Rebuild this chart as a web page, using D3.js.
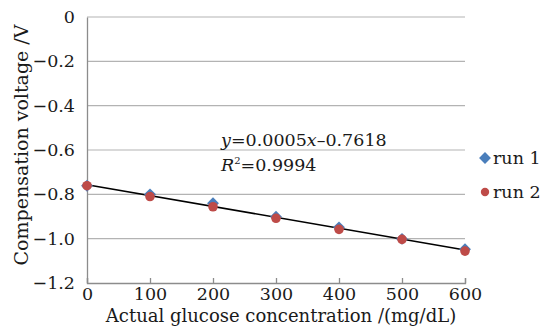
<!DOCTYPE html>
<meta charset="utf-8">
<title>glucose compensation</title>
<script src="https://cdn.jsdelivr.net/npm/d3@7"></script>
<style>
html, body {
    margin: 0;
    background: #fff;
}
svg text {
    font-family: "DejaVu Serif", serif;
    fill: #1a1a1a;
}
</style>
<body>
<svg></svg>
<script>
var conc = [0, 100, 200, 300, 400, 500, 600],
    run1 = [-0.761, -0.800, -0.840, -0.901, -0.949, -1.001, -1.048],
    run2 = [-0.761, -0.810, -0.856, -0.908, -0.958, -1.003, -1.056],
    yTicks = [0, -0.2, -0.4, -0.6, -0.8, -1.0, -1.2],
    xTicks = [0, 100, 200, 300, 400, 500, 600],
    seriesNames = ["run 1", "run 2"],
    eqText = "0.0005",
    eqConst = "0.7618",
    r2Text = "0.9994";

var width = 543,
    height = 327,
    plotLeft = 87,
    plotRight = 465,
    plotTop = 17,
    plotBottom = 283,
    blue = "#4a7ebb",
    red = "#be4b48";

var svg = d3.select("svg")
    .attr("width", width)
    .attr("height", height);

var x = d3.scaleLinear().domain([0, 600]).range([plotLeft, plotRight]),
    y = d3.scaleLinear().domain([-1.2, 0]).range([plotBottom, plotTop]);

// gridlines
svg.append("g")
    .selectAll("line")
    .data(yTicks.filter(function(d) { return d > -1.2; }))
    .enter().append("line")
    .attr("x1", plotLeft)
    .attr("x2", plotRight)
    .attr("y1", function(d) { return y(d); })
    .attr("y2", function(d) { return y(d); })
    .attr("stroke", "#b3b3b3")
    .attr("stroke-width", 1.2);

// axes
var fmt = function(d) { return d === 0 ? "0" : "\u2212" + Math.abs(d).toFixed(1); };

var yAxis = svg.append("g")
    .attr("transform", "translate(" + plotLeft + ",0)")
    .call(d3.axisLeft(y).tickValues(yTicks).tickFormat(fmt).tickSize(0).tickPadding(12));

var xAxis = svg.append("g")
    .attr("transform", "translate(0," + plotBottom + ")")
    .call(d3.axisBottom(x).tickValues(xTicks).tickFormat(d3.format("d")).tickSize(-5).tickPadding(4));

[yAxis, xAxis].forEach(function(a) {
    a.select(".domain").attr("stroke", "#8c8c8c").attr("stroke-width", 1.3);
    a.selectAll(".tick line").attr("stroke", "#8c8c8c").attr("stroke-width", 1.3);
    a.selectAll("text")
        .attr("font-family", "DejaVu Serif")
        .attr("font-size", 17.5)
        .attr("fill", "#1a1a1a");
});
xAxis.selectAll("text").attr("y", 4).attr("dy", "0.75em");

// axis titles
svg.append("text")
    .attr("x", (plotLeft + plotRight) / 2 + 5)
    .attr("y", 322)
    .attr("text-anchor", "middle")
    .attr("font-size", 18)
    .text("Actual glucose concentration /(mg/dL)");

svg.append("text")
    .attr("transform", "translate(28,145)rotate(-90)")
    .attr("text-anchor", "middle")
    .attr("font-size", 19)
    .text("Compensation voltage /V");

// trendline from least squares of both runs
var pts = conc.map(function(c, i) { return [c, run1[i]]; })
    .concat(conc.map(function(c, i) { return [c, run2[i]]; }));
var mx = d3.mean(pts, function(p) { return p[0]; }),
    my = d3.mean(pts, function(p) { return p[1]; }),
    slope = d3.sum(pts, function(p) { return (p[0] - mx) * (p[1] - my); }) /
            d3.sum(pts, function(p) { return (p[0] - mx) * (p[0] - mx); }),
    icpt = my - slope * mx;

svg.append("line")
    .attr("x1", x(0))
    .attr("y1", y(icpt))
    .attr("x2", x(600))
    .attr("y2", y(icpt + slope * 600))
    .attr("stroke", "#000")
    .attr("stroke-width", 1.5);

// markers
var diamond = d3.symbol().type(d3.symbolDiamond2).size(90);

svg.append("g")
    .selectAll("path")
    .data(run1)
    .enter().append("path")
    .attr("d", diamond)
    .attr("transform", function(d, i) { return "translate(" + x(conc[i]) + "," + y(d) + ")"; })
    .attr("fill", blue);

svg.append("g")
    .selectAll("circle")
    .data(run2)
    .enter().append("circle")
    .attr("cx", function(d, i) { return x(conc[i]); })
    .attr("cy", function(d) { return y(d); })
    .attr("r", 4.8)
    .attr("fill", red);

// equation
var eq = svg.append("text")
    .attr("x", 221)
    .attr("y", 146)
    .attr("font-size", 17.5);
eq.append("tspan").attr("font-style", "italic").text("y");
eq.append("tspan").text("=" + eqText);
eq.append("tspan").attr("font-style", "italic").text("x");
eq.append("tspan").text("\u2013" + eqConst);

var r2 = svg.append("text")
    .attr("x", 221)
    .attr("y", 171)
    .attr("font-size", 17.5);
r2.append("tspan").attr("font-style", "italic").text("R");
r2.append("tspan").attr("font-size", 10).attr("dy", -7).text("2");
r2.append("tspan").attr("dy", 7).text("=" + r2Text);

// legend
var legend = svg.append("g")
    .selectAll("g")
    .data(seriesNames)
    .enter().append("g")
    .attr("transform", function(d, i) { return "translate(485," + (158 + i * 34) + ")"; });

legend.append("path")
    .attr("d", function(d, i) { return i === 0 ? diamond() : d3.symbol().type(d3.symbolCircle).size(55)(); })
    .attr("fill", function(d, i) { return i === 0 ? blue : red; });

legend.append("text")
    .attr("x", 8)
    .attr("dy", "0.33em")
    .attr("font-size", 17.5)
    .text(function(d) { return d; });
</script>
</body>
